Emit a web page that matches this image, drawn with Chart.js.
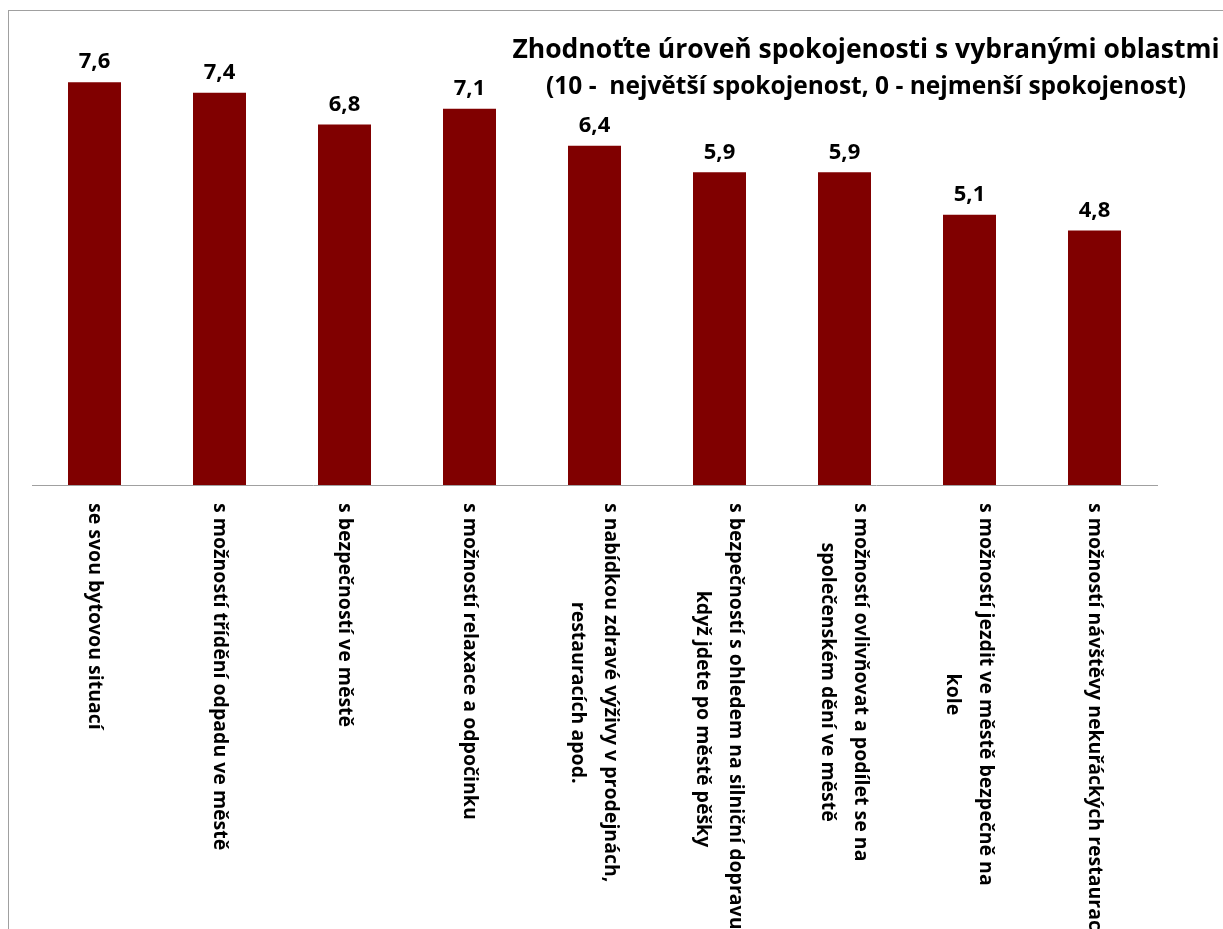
<!DOCTYPE html>
<html>
<head>
<meta charset="utf-8">
<script src="https://cdn.jsdelivr.net/npm/chart.js@4/dist/chart.umd.min.js"></script>
<style>
  html, body { margin: 0; padding: 0; background: #fff; }
  #wrap { width: 1223px; height: 929px; position: relative; }
</style>
</head>
<body>
<div id="wrap"><canvas id="chart" width="1223" height="929"></canvas></div>
<script>
/* ── Data ── */
const CATEGORIES = [
  ['se svou bytovou situací'],
  ['s možností třídění odpadu ve městě'],
  ['s bezpečností ve městě'],
  ['s možností relaxace a odpočinku'],
  ['s nabídkou zdravé výživy v prodejnách,', 'restauracích apod.'],
  ['s bezpečností s ohledem na silniční dopravu,', 'když jdete po městě pěšky'],
  ['s možností ovlivňovat a podílet se na', 'společenském dění ve městě'],
  ['s možností jezdit ve městě bezpečně na', 'kole'],
  ['s možností návštěvy nekuřáckých restaurací']
];
const VALUES = [7.6, 7.4, 6.8, 7.1, 6.4, 5.9, 5.9, 5.1, 4.8];
const TITLE_LINES = [
  'Zhodnoťte úroveň spokojenosti s vybranými oblastmi',
  '(10 -  největší spokojenost, 0 - nejmenší spokojenost)'
];

const FONT = "'Open Sans', 'DejaVu Sans', sans-serif";
const BAR_COLOR = '#800000';

function fmt(v) {
  return v.toFixed(1).replace('.', ',');
}

/* ── Plugins ── */
const frame = {
  id: 'frame',
  beforeDraw(chart) {
    const { ctx } = chart;
    ctx.save();
    ctx.strokeStyle = '#a0a0a0';
    ctx.lineWidth = 1;
    ctx.strokeRect(8.5, 10.5, 1300, 1000);
    ctx.restore();
  }
};

const titleBlock = {
  id: 'titleBlock',
  afterDraw(chart) {
    const { ctx } = chart;
    ctx.save();
    ctx.fillStyle = '#000';
    ctx.textAlign = 'center';
    ctx.textBaseline = 'middle';
    ctx.font = 'bold 26.5px ' + FONT;
    ctx.fillText(TITLE_LINES[0], 866, 50);
    ctx.font = 'bold 24.5px ' + FONT;
    ctx.fillText(TITLE_LINES[1], 866, 87);
    ctx.restore();
  }
};

const valueLabels = {
  id: 'valueLabels',
  afterDatasetsDraw(chart) {
    const { ctx } = chart;
    const meta = chart.getDatasetMeta(0);
    ctx.save();
    ctx.fillStyle = '#000';
    ctx.font = 'bold 22px ' + FONT;
    ctx.textAlign = 'center';
    ctx.textBaseline = 'middle';
    meta.data.forEach((bar, i) => {
      ctx.fillText(fmt(VALUES[i]), bar.x, bar.y - 20);
    });
    ctx.restore();
  }
};

// category labels read top-to-bottom (rotated clockwise), lines centred
const downLabels = {
  id: 'downLabels',
  afterDraw(chart) {
    const { ctx } = chart;
    const xs = chart.scales.x;
    const top = chart.chartArea.bottom + 18;
    const lineH = 33;
    ctx.save();
    ctx.fillStyle = '#000';
    ctx.font = 'bold 19.5px ' + FONT;
    ctx.textAlign = 'center';
    ctx.textBaseline = 'middle';
    CATEGORIES.forEach((lines, i) => {
      const x = xs.getPixelForTick(i);
      const maxW = Math.max(...lines.map(l => ctx.measureText(l).width));
      ctx.save();
      ctx.translate(x, top);
      ctx.rotate(Math.PI / 2);
      lines.forEach((l, j) => {
        ctx.fillText(l, maxW / 2, (j - (lines.length - 1) / 2) * lineH);
      });
      ctx.restore();
    });
    ctx.restore();
  }
};

/* ── Chart ── */
new Chart(document.getElementById('chart'), {
  type: 'bar',
  data: {
    labels: CATEGORIES,
    datasets: [{
      data: VALUES,
      backgroundColor: BAR_COLOR,
      borderWidth: 0,
      categoryPercentage: 1,
      barPercentage: 0.424
    }]
  },
  options: {
    responsive: false,
    animation: false,
    layout: { padding: { top: 61, left: 32, right: 66, bottom: 0 } },
    plugins: {
      legend: { display: false },
      title: { display: false },
      tooltip: { enabled: false }
    },
    scales: {
      x: {
        grid: { display: false },
        border: { display: true, color: '#a0a0a0', width: 1 },
        ticks: { display: false },
        afterFit(scale) { scale.height = 444; }
      },
      y: {
        display: false,
        min: 0,
        max: 8
      }
    }
  },
  plugins: [frame, valueLabels, downLabels, titleBlock]
});
</script>
</body>
</html>
